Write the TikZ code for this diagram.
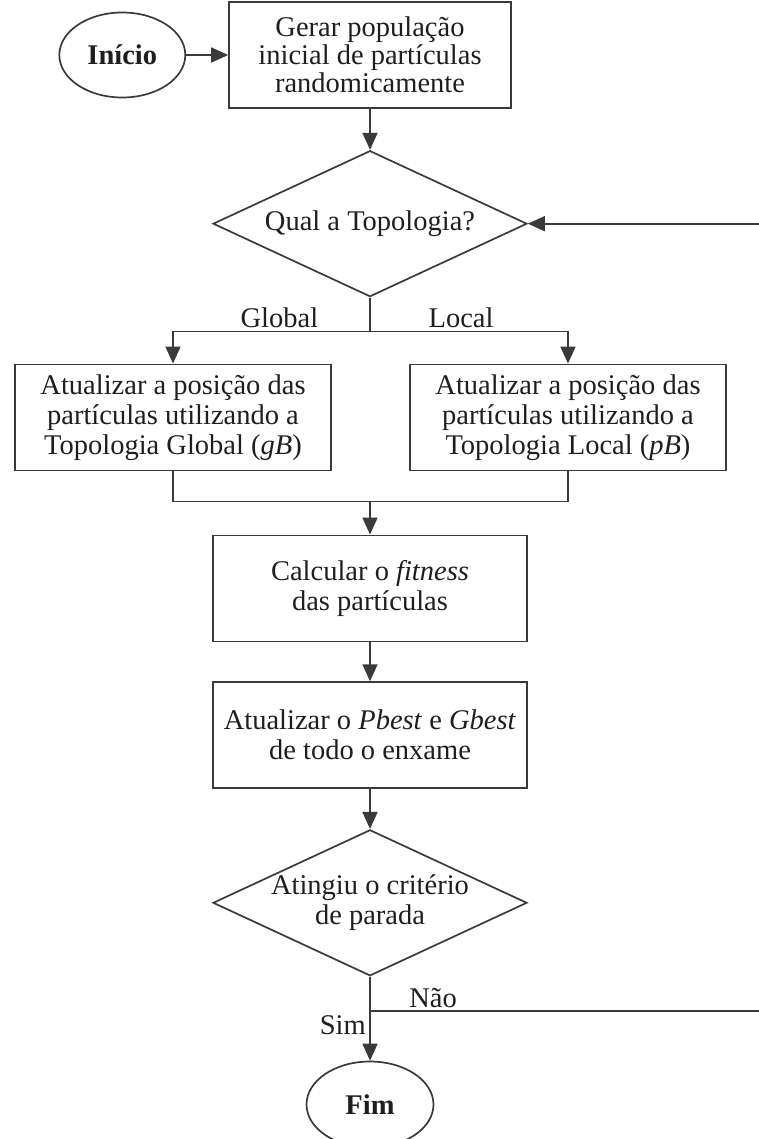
\documentclass[tikz,border=0pt]{standalone}
\usepackage{fontspec}
\setmainfont{Liberation Serif}
\usepackage{tikz}
\usetikzlibrary{arrows.meta,positioning,shapes.geometric,calc}

\definecolor{linha}{HTML}{3A3A3A}
\definecolor{texto}{HTML}{1E1E1E}

\tikzset{
    proc/.style={rectangle, draw=linha, minimum width=316pt, minimum height=106pt, inner sep=0pt, align=center},
    term/.style={ellipse, draw=linha, minimum width=126pt, minimum height=85pt, inner sep=0pt},
    decisao/.style={diamond, draw=linha, aspect=2.15, minimum width=314pt, minimum height=146pt, inner sep=-5pt, align=center}
}

\begin{document}
\begin{tikzpicture}[x=1pt, y=1pt, ->, >={Triangle[length=17pt,width=15pt]}, line width=1.7pt, draw=linha, text=texto,
                    font=\fontsize{28.5}{30}\selectfont]
                \useasboundingbox (0,0) rectangle (758,-1139);

                \node[proc, minimum width=282pt, font=\fontsize{28.5}{28}\selectfont] (gerar)  at (370,-55)  {Gerar população\\inicial de partículas\\randomicamente};
                \node[term]    (inicio) [left=42pt of gerar]           {\textbf{Início}};
                \node[decisao] (topo)   [below=41pt of gerar]          {Qual a Topologia?};
                \node[proc]    (glob)   [below=66pt of topo, xshift=-197pt] {Atualizar a posição das\\partículas utilizando a\\Topologia Global (\textit{gB})};
                \node[proc]    (loc)    [below=66pt of topo, xshift=198pt]  {Atualizar a posição das\\partículas utilizando a\\Topologia Local (\textit{pB})};
                \node[proc, minimum width=314pt] (calc)   [below=237pt of topo]  {Calcular o \textit{fitness}\\das partículas};
                \node[proc, minimum width=314pt] (melhor) [below=39pt of calc]   {Atualizar o \textit{Pbest} e \textit{Gbest}\\de todo o enxame};
                \node[decisao] (parada) [below=40pt of melhor]         {Atingiu o critério\\de parada};
                \node[term, minimum width=127pt, minimum height=86pt] (fim) [below=84pt of parada] {\textbf{Fim}};

                \coordinate (ramo)  at ($(topo.south)+(0,-34)$);
                \coordinate (junta) at ($(calc.north)+(0,33)$);
                \coordinate (nao)   at ($(parada.south)+(0,-34)$);
                \coordinate (volta) at (764,0);

                \path
                (inicio) edge (gerar)
                (gerar)  edge (topo)
                (junta)  edge (calc)
                (calc)   edge (melhor)
                (melhor) edge (parada);

                % ramos da topologia
                \draw[-] (topo.south) -- (ramo);
                \draw (ramo) -| node[above, pos=0.23] {Global} (glob.north);
                \draw (ramo) -| node[above, pos=0.23] {Local}  (loc.north);
                \draw[-] (glob.south) |- (junta) -| (loc.south);

                % criterio de parada
                \draw[-] (parada.south) -- (nao);
                \draw (nao) -- node[left, pos=0.3] {Sim} (fim);
                \draw (nao) -- node[above, inner sep=2pt, pos=0.16] {Não} (nao -| volta) |- (topo.east);
            \end{tikzpicture}
\end{document}
